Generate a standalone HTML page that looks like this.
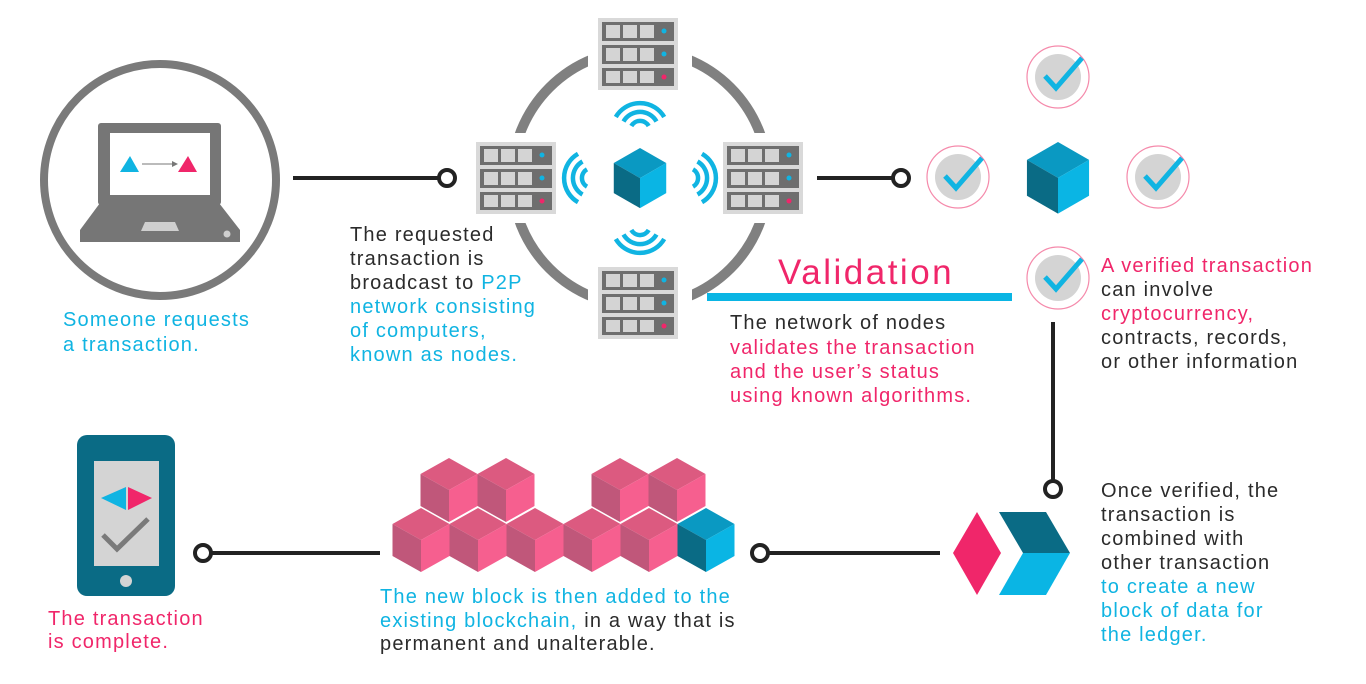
<!DOCTYPE html>
<html><head><meta charset="utf-8"><style>
html,body{margin:0;padding:0;background:#fff;width:1366px;height:684px;overflow:hidden}
svg{display:block}
text{font-family:"Liberation Sans",sans-serif;font-size:20px;letter-spacing:1.2px}
.d{fill:#2b2b2b}.c{fill:#10b4e2}.p{fill:#f0266a}
</style></head><body>
<svg width="1366" height="684" viewBox="0 0 1366 684" xmlns="http://www.w3.org/2000/svg">
<defs>
<g id="srv">
<rect x="0" y="0" width="80" height="72" fill="#d9d9d9"/>
<rect x="4" y="4" width="72" height="19" fill="#6e6e6e"/>
<rect x="4" y="27" width="72" height="19" fill="#6e6e6e"/>
<rect x="4" y="50" width="72" height="18" fill="#6e6e6e"/>
<g fill="#d4d4d4">
<rect x="8" y="7" width="14" height="13"/><rect x="25" y="7" width="14" height="13"/><rect x="42" y="7" width="14" height="13"/>
<rect x="8" y="30" width="14" height="13"/><rect x="25" y="30" width="14" height="13"/><rect x="42" y="30" width="14" height="13"/>
<rect x="8" y="53" width="14" height="12"/><rect x="25" y="53" width="14" height="12"/><rect x="42" y="53" width="14" height="12"/>
</g>
<circle cx="66" cy="13" r="2.5" fill="#10b4e2"/><circle cx="66" cy="36" r="2.5" fill="#10b4e2"/><circle cx="66" cy="59" r="2.5" fill="#f0266a"/>
</g>
<g id="pc">
<polygon points="0,0 28.5,16 0,32 -28.5,16" fill="#dc5a80"/>
<polygon points="-28.5,16 0,32 0,64 -28.5,48" fill="#c0577a"/>
<polygon points="28.5,16 0,32 0,64 28.5,48" fill="#f65f8f"/>
</g>
<g id="bc">
<polygon points="0,0 28.5,16 0,32 -28.5,16" fill="#0a99c2"/>
<polygon points="-28.5,16 0,32 0,64 -28.5,48" fill="#0a6b85"/>
<polygon points="28.5,16 0,32 0,64 28.5,48" fill="#0ab5e4"/>
</g>
<g id="chk">
<circle r="31" fill="none" stroke="#f58aab" stroke-width="1.2"/>
<circle r="23" fill="#d4d4d4"/>
<polyline points="-13,-1 -2,11 24,-19" fill="none" stroke="#10b4e2" stroke-width="5"/>
</g>
<g id="wifi" fill="none" stroke="#10b4e2" stroke-width="4.5">
<path d="M-8.7,-5 A10,10 0 0 1 8.7,-5"/>
<path d="M-16.5,-9.5 A19,19 0 0 1 16.5,-9.5"/>
<path d="M-24.2,-14 A28,28 0 0 1 24.2,-14"/>
</g>
</defs>

<!-- laptop -->
<circle cx="160" cy="180" r="116" fill="none" stroke="#7a7a7a" stroke-width="8"/>
<rect x="98" y="123" width="123" height="82" rx="3" fill="#767676"/>
<rect x="110" y="133" width="100" height="62" fill="#fff"/>
<polygon points="100,203 219,203 240,230 240,242 80,242 80,230" fill="#767676"/>
<polygon points="145,222 175,222 179,231 141,231" fill="#cfcfcf"/>
<circle cx="227" cy="234" r="3.5" fill="#cfcfcf"/>
<polygon points="130,156 139,172 120,172" fill="#10b4e2"/>
<polygon points="188,156 197,172 178,172" fill="#f0266a"/>
<line x1="142" y1="164" x2="172" y2="164" stroke="#777" stroke-width="1"/>
<polygon points="178,164 172,161 172,167" fill="#777"/>

<line x1="293" y1="178" x2="440" y2="178" stroke="#222" stroke-width="4"/>
<circle cx="447" cy="178" r="8" fill="#fff" stroke="#222" stroke-width="4"/>

<!-- network ring -->
<circle cx="640" cy="178" r="128" fill="none" stroke="#808080" stroke-width="10"/>
<rect x="588" y="14" width="104" height="84" fill="#fff"/>
<rect x="588" y="258" width="104" height="84" fill="#fff"/>
<rect x="466" y="133" width="100" height="90" fill="#fff"/>
<rect x="714" y="133" width="100" height="90" fill="#fff"/>
<use href="#srv" x="598" y="18"/>
<use href="#srv" x="476" y="142"/>
<use href="#srv" x="723" y="142"/>
<use href="#srv" x="598" y="267"/>
<use href="#wifi" transform="translate(640,131)"/>
<use href="#wifi" transform="translate(640,225) rotate(180)"/>
<use href="#wifi" transform="translate(592,178) rotate(-90)"/>
<use href="#wifi" transform="translate(688,178) rotate(90)"/>
<g transform="translate(640,148) scale(0.92,0.94)"><use href="#bc"/></g>

<line x1="817" y1="178" x2="893" y2="178" stroke="#222" stroke-width="4"/>
<circle cx="901" cy="178" r="8" fill="#fff" stroke="#222" stroke-width="4"/>

<!-- checks -->
<use href="#chk" x="1058" y="77"/>
<use href="#chk" x="958" y="177"/>
<use href="#chk" x="1158" y="177"/>
<use href="#chk" x="1058" y="278"/>
<g transform="translate(1058,142) scale(1.09,1.12)"><use href="#bc"/></g>

<!-- validation -->
<text x="778" y="284" style="font-size:35px;letter-spacing:2.5px" class="p">Validation</text>
<rect x="707" y="293" width="305" height="8" fill="#0ab5e4"/>
<text x="730" y="329" class="d">The network of nodes</text>
<text x="730" y="354" class="p">validates the transaction</text>
<text x="730" y="378" class="p">and the user’s status</text>
<text x="730" y="402" class="p">using known algorithms.</text>

<text x="1101" y="272" class="p">A verified transaction</text>
<text x="1101" y="296" class="d">can involve</text>
<text x="1101" y="320" class="p">cryptocurrency,</text>
<text x="1101" y="344" class="d">contracts, records,</text>
<text x="1101" y="368" class="d">or other information</text>

<line x1="1053" y1="322" x2="1053" y2="480" stroke="#222" stroke-width="4"/>
<circle cx="1053" cy="489" r="8" fill="#fff" stroke="#222" stroke-width="4"/>

<text x="1101" y="497" class="d">Once verified, the</text>
<text x="1101" y="521" class="d">transaction is</text>
<text x="1101" y="545" class="d">combined with</text>
<text x="1101" y="569" class="d">other transaction</text>
<text x="1101" y="593" class="c">to create a new</text>
<text x="1101" y="617" class="c">block of data for</text>
<text x="1101" y="641" class="c">the ledger.</text>

<!-- merge icon -->
<polygon points="977,512 1001,553 977,595 953,553" fill="#f0266a"/>
<polygon points="999,512 1046,512 1070,553 1023,553" fill="#0a6b85"/>
<polygon points="1023,553 1070,553 1046,595 999,595" fill="#0ab5e4"/>

<line x1="768" y1="553" x2="940" y2="553" stroke="#222" stroke-width="4"/>
<circle cx="760" cy="553" r="8" fill="#fff" stroke="#222" stroke-width="4"/>

<!-- blockchain cubes -->
<use href="#pc" x="449" y="458"/><use href="#pc" x="506" y="458"/>
<use href="#pc" x="620" y="458"/><use href="#pc" x="677" y="458"/>
<use href="#pc" x="421" y="508"/><use href="#pc" x="478" y="508"/><use href="#pc" x="535" y="508"/>
<use href="#pc" x="592" y="508"/><use href="#pc" x="649" y="508"/><use href="#bc" x="706" y="508"/>

<text x="380" y="603" class="c">The new block is then added to the</text>
<text x="380" y="627"><tspan class="c">existing blockchain,</tspan><tspan class="d"> in a way that is</tspan></text>
<text x="380" y="650" class="d">permanent and unalterable.</text>

<line x1="210" y1="553" x2="380" y2="553" stroke="#222" stroke-width="4"/>
<circle cx="203" cy="553" r="8" fill="#fff" stroke="#222" stroke-width="4"/>

<!-- phone -->
<rect x="77" y="435" width="98" height="161" rx="10" fill="#0a6b85"/>
<rect x="94" y="461" width="65" height="105" fill="#d4d4d4"/>
<circle cx="126" cy="581" r="6" fill="#d4d4d4"/>
<polygon points="101,498 126,487 126,510" fill="#10b4e2"/>
<polygon points="128,487 152,498 128,510" fill="#f0266a"/>
<polyline points="103,535 117,549 148,519" fill="none" stroke="#7a7a7a" stroke-width="5"/>

<text x="48" y="625" class="p">The transaction</text>
<text x="48" y="648" class="p">is complete.</text>

<text x="63" y="326" class="c">Someone requests</text>
<text x="63" y="351" class="c">a transaction.</text>

<text x="350" y="241" class="d">The requested</text>
<text x="350" y="265" class="d">transaction is</text>
<text x="350" y="289"><tspan class="d">broadcast to </tspan><tspan class="c">P2P</tspan></text>
<text x="350" y="313" class="c">network consisting</text>
<text x="350" y="337" class="c">of computers,</text>
<text x="350" y="361" class="c">known as nodes.</text>
</svg>
</body></html>
